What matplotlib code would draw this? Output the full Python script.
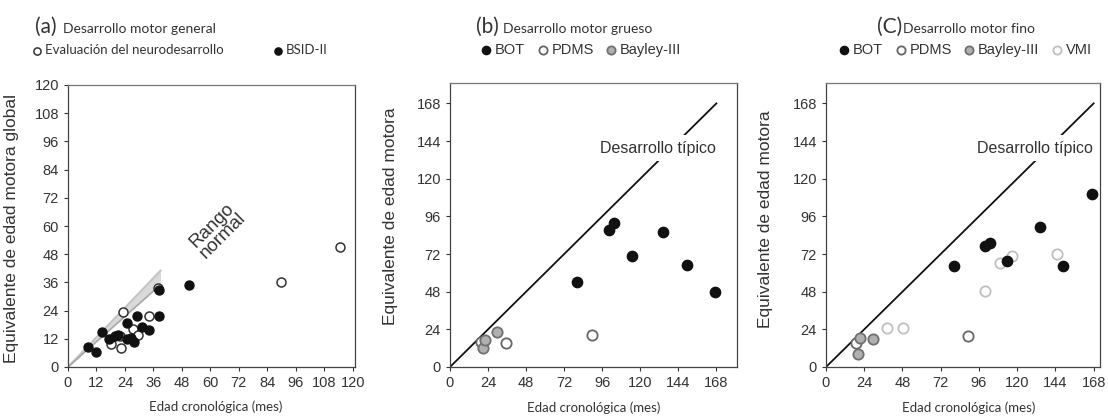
import matplotlib
matplotlib.use("Agg")
import matplotlib.pyplot as plt

# ---- data ----
# (a) gross+fine global motor
a_eval_x = [18.3, 22.5, 23.1, 34.0, 27.6, 29.4, 22.0, 38.0, 89.8, 114.8]
a_eval_y = [9.7, 8.2, 23.2, 21.8, 16.0, 13.7, 13.0, 33.5, 36.0, 51.0]
a_bsid_x = [8.5, 12.0, 14.5, 19.7, 21.0, 25.0, 29.0, 38.2, 38.2, 25.0, 28.0, 31.2, 34.3, 26.6, 17.2, 51.0]
a_bsid_y = [8.7, 6.5, 15.1, 13.0, 13.5, 18.9, 21.8, 21.8, 32.9, 11.8, 10.8, 17.2, 15.8, 12.5, 12.0, 35.0]
band_x = [0, 39]
band_lo = [0, 35]
band_hi = [0, 41]

# (b) gross motor
b_bot_x = [80.4, 100.3, 103.4, 114.5, 134.2, 149.6, 167.4]
b_bot_y = [54.0, 87.0, 92.0, 71.0, 86.0, 65.0, 48.0]
b_pdms_x = [19.5, 35.2, 89.6]
b_pdms_y = [16.0, 15.6, 20.5]
b_bay_x = [20.6, 22.0, 29.4]
b_bay_y = [12.0, 17.0, 22.0]

# (c) fine motor
c_bot_x = [80.5, 100.0, 102.7, 113.6, 134.2, 148.8, 167.0]
c_bot_y = [64.6, 77.4, 79.1, 67.8, 89.2, 64.6, 110.0]
c_pdms_x = [19.0, 89.0]
c_pdms_y = [15.0, 19.8]
c_bay_x = [20.3, 21.4, 29.4]
c_bay_y = [8.5, 18.8, 17.7]
c_vmi_x = [38.2, 48.2, 100.0, 109.0, 116.8, 145.0]
c_vmi_y = [24.7, 24.7, 48.6, 66.0, 71.0, 72.0]

typical = [0, 168]

TXT = "#333333"
TICKF = "Liberation Sans"
CAL = "Lato"

W, H = 1108, 416
fig = plt.figure(figsize=(W / 100, H / 100), dpi=100)


def px_ax(l, t, r, b):
    return [l / W, 1 - b / H, (r - l) / W, (b - t) / H]


def style(ax, step, lim_x, lim_y, ylabel, ylab_x, ylab_y, xlab_x, ysize):
    ax.set_xlim(0, lim_x)
    ax.set_ylim(0, lim_y)
    ax.set_xticks(range(0, int(lim_x) + 1, step))
    ax.set_yticks(range(0, int(lim_y) + 1, step))
    ax.tick_params(direction="out", length=3, width=0.8, colors="#333333",
                   labelsize=10.5, labelcolor=TXT)
    for lab in ax.get_xticklabels() + ax.get_yticklabels():
        lab.set_fontfamily(TICKF)
    for s in ax.spines.values():
        s.set_color("#444444")
        s.set_linewidth(0.9)
    ax.spines["top"].set_color("#777777")
    ax.set_ylabel(ylabel, fontfamily=TICKF, fontsize=ysize, color=TXT)
    ax.yaxis.set_label_coords(ylab_x, ylab_y)
    ax.set_xlabel("Edad cronológica (mes)", fontfamily=CAL, fontsize=9.5, color=TXT)
    ax.xaxis.set_label_coords(xlab_x, -0.12)


# ---- panel (a) ----
axa = fig.add_axes(px_ax(68, 85, 355, 367))
axa.fill_between(band_x, band_lo, band_hi, color="#dadada", lw=0, zorder=1)
axa.plot(band_x, band_hi, color="#c4c4c4", lw=1.5, zorder=1)
axa.plot(band_x, band_lo, color="#a8a8a8", lw=1.2, zorder=1)
sa1 = axa.scatter(a_eval_x, a_eval_y, s=42, facecolor="white", edgecolor="#333333",
                  linewidth=1.1, zorder=3, label="Evaluación del neurodesarrollo")
sa2 = axa.scatter(a_bsid_x, a_bsid_y, s=42, facecolor="#111111", edgecolor="#111111",
                  linewidth=1.0, zorder=4, label="BSID-II")
axa.text(63, 58, "Rango\nnormal", rotation=45, ha="center", va="center",
         fontfamily=TICKF, fontsize=13.5, color=TXT, linespacing=0.85)
style(axa, 12, 121, 120, "Equivalente de edad motora global", -0.17, 0.49, 0.516, 12.5)

# ---- panel (b) ----
axb = fig.add_axes(px_ax(450, 83, 737, 367))
axb.plot(typical, typical, color="#111111", lw=1.3, zorder=1)
axb.text(131, 139.5, "Desarrollo típico", ha="center", va="center", fontfamily=TICKF,
         fontsize=11.5, color=TXT, zorder=2,
         bbox=dict(boxstyle="square,pad=0.35", fc="white", ec="none"))
sb1 = axb.scatter(b_bot_x, b_bot_y, s=55, facecolor="#111111", edgecolor="#111111",
                  linewidth=1.0, zorder=4, label="BOT")
sb2 = axb.scatter(b_pdms_x, b_pdms_y, s=55, facecolor="white", edgecolor="#666666",
                  linewidth=1.3, zorder=3, label="PDMS")
sb3 = axb.scatter(b_bay_x, b_bay_y, s=55, facecolor="#b0b0b0", edgecolor="#707070",
                  linewidth=1.3, zorder=3, label="Bayley-III")
style(axb, 24, 181, 181, "Equivalente de edad motora", -0.18, 0.53, 0.50, 12.5)

# ---- panel (c) ----
axc = fig.add_axes(px_ax(826, 83, 1100, 367))
axc.plot(typical, typical, color="#111111", lw=1.3, zorder=1)
axc.text(131, 139.5, "Desarrollo típico", ha="center", va="center", fontfamily=TICKF,
         fontsize=11.5, color=TXT, zorder=2,
         bbox=dict(boxstyle="square,pad=0.35", fc="white", ec="none"))
sc1 = axc.scatter(c_bot_x, c_bot_y, s=55, facecolor="#111111", edgecolor="#111111",
                  linewidth=1.0, zorder=4, label="BOT")
sc2 = axc.scatter(c_pdms_x, c_pdms_y, s=55, facecolor="white", edgecolor="#666666",
                  linewidth=1.3, zorder=3, label="PDMS")
sc3 = axc.scatter(c_bay_x, c_bay_y, s=55, facecolor="#b0b0b0", edgecolor="#707070",
                  linewidth=1.3, zorder=3, label="Bayley-III")
sc4 = axc.scatter(c_vmi_x, c_vmi_y, s=55, facecolor="white", edgecolor="#c0c0c0",
                  linewidth=1.3, zorder=3, label="VMI")
style(axc, 24, 172, 181, "Equivalente de edad motora", -0.195, 0.52, 0.52, 12.5)

# ---- headers ----
for x_tag, x_txt, tag, title in [(35, 63, "(a)", "Desarrollo motor general"),
                                 (476, 503, "(b)", "Desarrollo motor grueso"),
                                 (877, 903, "(C)", "Desarrollo motor fino")]:
    fig.text(x_tag / W, 1 - 33 / H, tag, fontfamily=CAL, fontsize=15, color=TXT,
             ha="left", va="baseline")
    fig.text(x_txt / W, 1 - 33 / H, title, fontfamily=CAL, fontsize=10, color=TXT,
             ha="left", va="baseline")

# ---- legends ----
leg_kw = dict(frameon=False, handlelength=0.6, handletextpad=0.3, borderpad=0,
              borderaxespad=0, labelcolor=TXT, loc="center left", markerscale=0.8)
fig.legend([sa1, sa2], ["Evaluación del neurodesarrollo", "BSID-II"], ncol=2,
           bbox_to_anchor=(33 / W, 1 - 50 / H), columnspacing=3.8,
           prop={"family": CAL, "size": 9.5}, **leg_kw)
fig.legend([sb1, sb2, sb3], ["BOT", "PDMS", "Bayley-III"], ncol=3,
           bbox_to_anchor=(482 / W, 1 - 50 / H), columnspacing=0.9,
           prop={"family": TICKF, "size": 10.5}, **leg_kw)
fig.legend([sc1, sc2, sc3, sc4], ["BOT", "PDMS", "Bayley-III", "VMI"], ncol=4,
           bbox_to_anchor=(840 / W, 1 - 50 / H), columnspacing=0.9,
           prop={"family": TICKF, "size": 10.5}, **leg_kw)

fig.savefig("out.png", dpi=100)
